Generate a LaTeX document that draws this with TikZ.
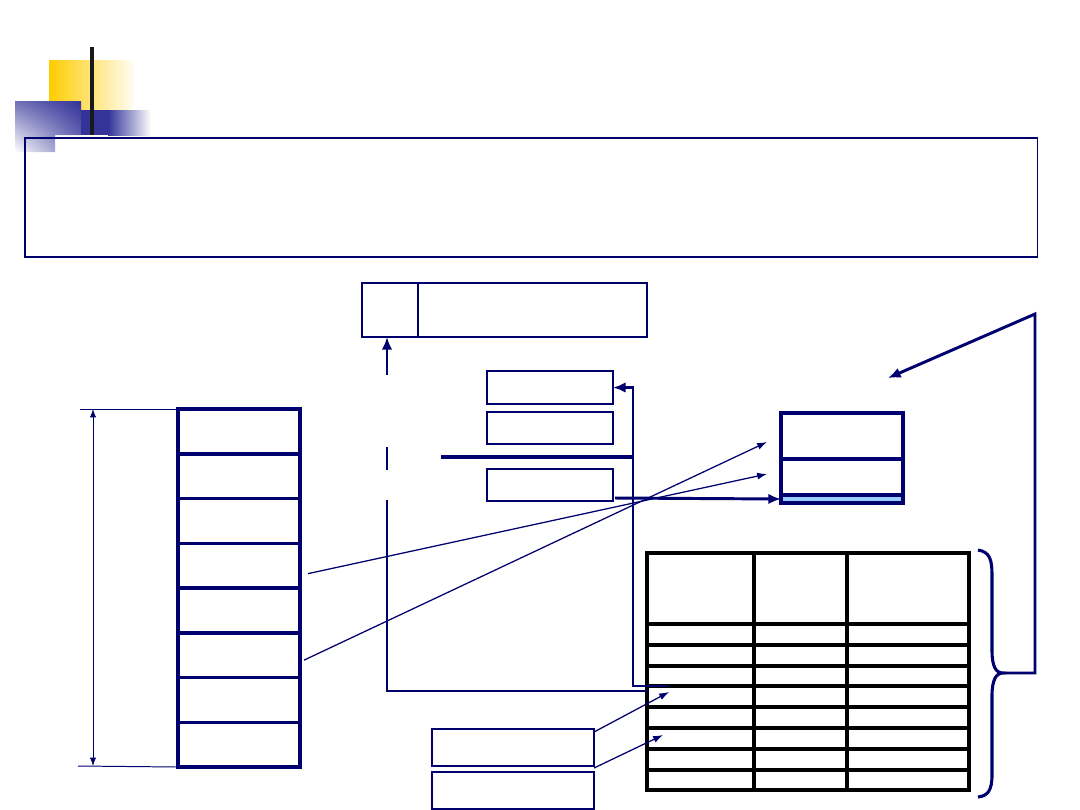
\documentclass[tikz,border=0pt]{standalone}
\usepackage{xcolor}
\usepackage{tikz}
\usetikzlibrary{shapes,arrows,arrows.meta,positioning,calc,shadings}

\definecolor{navy}{RGB}{0,0,110}
\definecolor{decoyellow}{RGB}{255,204,0}
\definecolor{decoblue}{RGB}{51,51,153}
\definecolor{slotblue}{RGB}{153,204,255}

\begin{document}
\begin{tikzpicture}[
    x=0.025cm, y=-0.025cm,
    box/.style={rectangle, draw=navy, line width=1pt, inner sep=0pt, outer sep=0pt, anchor=north west},
    cell/.style={box, line width=2.5pt, minimum width=3.05cm, minimum height=1.11875cm},
    slot/.style={box, line width=2.6pt, minimum width=3.05cm},
    small/.style={box, minimum width=3.15cm, minimum height=0.8cm},
    arrow/.style={->, >={Latex[length=9pt,width=7.5pt]}, line width=2.1pt, draw=navy},
    thinarrow/.style={->, >={Latex[length=7pt,width=5pt]}, line width=0.9pt, draw=navy},
    link/.style={draw=navy, line width=1.7pt},
    grid/.style={draw=black, line width=2.4pt}
]
    \useasboundingbox (0,0) rectangle (1080,810);

    % Corner decoration
    \shade[left color=decoyellow, middle color=decoyellow, right color=decoyellow!5] (49,60) rectangle (133,110);
    \shade[upper right=decoblue, upper left=decoblue!70, lower right=decoblue!70, lower left=white]
        (15,101) -- (81,101) -- (81,135) -- (55,135) -- (55,152) -- (15,152) -- cycle;
    \fill[decoblue] (81,110) rectangle (108,135);
    \shade[left color=decoblue, right color=white] (108,110) rectangle (151,135);
    \fill[black!90] (90,47) rectangle (94,135);

    % Frame
    \node[box, line width=0.8pt, minimum width=25.3cm, minimum height=2.975cm] (frame) at (25,138) {};

    % Top record
    \node[box, minimum width=1.4cm, minimum height=1.35cm] (topkey) at (362,283) {};
    \node[box, minimum width=5.725cm, minimum height=1.35cm] (topval) at (418,283) {};

    % Small boxes
    \node[small, minimum height=0.825cm] (boxA) at (487,371) {};
    \node[small] (boxB) at (487,412) {};
    \node[small] (boxC) at (487,469) {};
    \draw[navy, line width=1.6pt] (boxC.north west) -- (boxC.north east);

    % Right box
    \node[slot, minimum height=1.15cm] (rb1) at (781,413) {};
    \node[slot, minimum height=0.9cm] (rb2) at (781,459) {};
    \node[slot, minimum height=0.2cm, fill=slotblue] (rb3) at (781,495) {};

    % Left stack
    \foreach \i in {1,...,8}
        \node[cell] (cell\i) at (178,{409+44.75*(\i-1)}) {};

    % Size marks
    \coordinate (dimtop) at (80,409);
    \coordinate (dimbot) at (78,766);
    \draw[navy, line width=0.7pt] (dimtop) -- (cell1.north west);
    \draw[navy, line width=0.7pt] (dimbot) -- (cell8.south west);
    \draw[navy, line width=0.7pt, <->, >={Latex[length=6pt,width=4.5pt]}] (93,409) -- (93,766);

    % Table
    \node[box, draw=black, line width=2.4pt, minimum width=8.05cm, minimum height=5.925cm] (tbl) at (647,553) {};
    \foreach \y in {624,645,666,686,707,728,749,770}
        \draw[grid] (647,\y) -- (969,\y);
    \foreach \x in {754,847}
        \draw[grid] (\x,553) -- (\x,790);

    % Bottom record
    \node[box, line width=0.9pt, minimum width=4.05cm, minimum height=0.925cm] (bb1) at (432,729) {};
    \node[box, line width=0.9pt, minimum width=4.05cm, minimum height=0.925cm] (bb2) at (432,772) {};
    \draw[navy, line width=1.8pt] (bb1.south west) -- (bb1.south east);
    \draw[navy, line width=1.6pt] (bb2.north east) -- (bb2.south east);

    % Links
    \coordinate (back) at (647,691);
    \coordinate (dash1) at (387,500);
    \coordinate (dash2) at (387,470);
    \coordinate (dash3) at (387,447);
    \coordinate (dash4) at (387,375);
    \draw[link] (back) -| (dash1);
    \draw[link] (dash2) -- (dash3);
    \draw[arrow, line width=1.7pt] (dash4) -- (dash4 |- topkey.south);

    \coordinate (fromrow) at (668,686);
    \coordinate (feedin) at (441,457);
    \draw[arrow, line width=1.9pt] (fromrow) -- (633,686) |- (boxA.east);
    \draw[link, line width=2.2pt] (feedin) -- (633,457);

    \draw[arrow] ($(boxC.east)+(2,13)$) -- (rb3.west);

    \coordinate (rowA) at (669,692);
    \coordinate (rowB) at (663,735);
    \draw[thinarrow] ($(bb1.north east)+(0,3)$) -- (rowA);
    \draw[thinarrow] ($(bb1.south east)+(0,2)$) -- (rowB);

    \draw[thinarrow] ($(cell4.east)+(8,8)$) -- ($(rb2.west)+(-14,-3)$);
    \draw[thinarrow] ($(cell6.east)+(4,5)$) -- ($(rb1.west)+(-14,6)$);

    % Brace and return arrow
    \coordinate (tip) at (1003,673);
    \coordinate (ret) at (888,378);
    \draw[navy, line width=2.2pt] (978,550) .. controls (990,552) and (992,560) .. (992,575) -- (992,650)
        .. controls (992,667) and (996,673) .. (tip) .. controls (996,673) and (992,680) .. (992,696)
        -- (992,775) .. controls (992,790) and (988,796) .. (978,797);
    \draw[arrow] (tip) -- (1035,673) -- (1035,314) -- (ret);
\end{tikzpicture}
\end{document}
